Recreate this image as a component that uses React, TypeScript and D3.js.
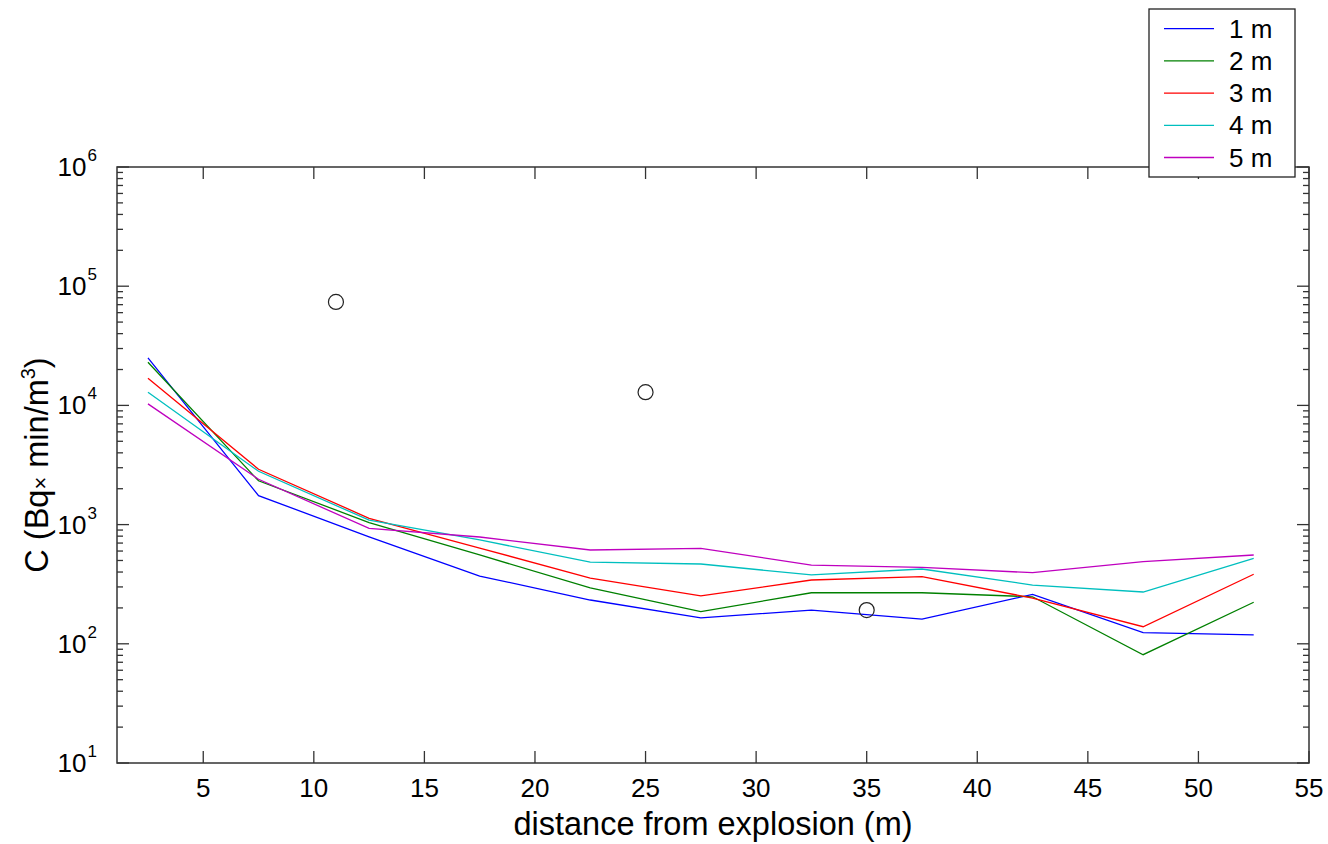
import React from "react";
import * as d3 from "d3";

const distances = [2.5, 7.5, 12.5, 17.5, 22.5, 27.5, 32.5, 37.5, 42.5, 47.5, 52.5];
const series1m = [25000, 1750, 790, 370, 233, 165, 192, 161, 260, 124, 119];
const series2m = [23000, 2330, 1040, 556, 294, 186, 268, 268, 248, 81, 223];
const series3m = [16900, 2910, 1130, 636, 356, 252, 343, 366, 242, 139, 383];
const series4m = [12900, 2800, 1090, 743, 485, 467, 378, 424, 311, 272, 521];
const series5m = [10300, 2400, 930, 787, 612, 632, 458, 438, 395, 489, 556];
const seriesNames = ["1 m", "2 m", "3 m", "4 m", "5 m"];
const seriesColors = ["#0000ff", "#008000", "#ff0000", "#00bfbf", "#bf00bf"];
const measuredX = [11, 25, 35];
const measuredY = [73800, 12900, 192];
const xTicks = [5, 10, 15, 20, 25, 30, 35, 40, 45, 50, 55];
const yDecades = [1, 2, 3, 4, 5, 6];

const W = 1328;
const H = 844;
const L = 117, R = 1309, T = 167, B = 763;
const FONT = "'Liberation Sans', Arial, Helvetica, sans-serif";

export default function App() {
  const x = d3.scaleLinear().domain([1.1, 55]).range([L, R]);
  const y = d3.scaleLog().domain([10, 1e6]).range([B, T]);
  const all = [series1m, series2m, series3m, series4m, series5m];
  const line = d3
    .line<number>()
    .x((_, i) => x(distances[i]))
    .y((d) => y(d));
  const yTicks = y.ticks();
  const isMajor = (v: number) => Math.abs(Math.log10(v) - Math.round(Math.log10(v))) < 1e-9;

  return (
    <svg width={W} height={H} style={{ position: "absolute", left: 0, top: 0, background: "#fff" }} fontFamily={FONT}>
      <rect x={0} y={0} width={W} height={H} fill="#fff" />
      {all.map((s, i) => (
        <path key={i} d={line(s) || ""} fill="none" stroke={seriesColors[i]} strokeWidth={1.3} />
      ))}
      {measuredX.map((mx, i) => (
        <circle key={i} cx={x(mx)} cy={y(measuredY[i])} r={7.5} fill="none" stroke="#222" strokeWidth={1.2} />
      ))}
      <rect x={L} y={T} width={R - L} height={B - T} fill="none" stroke="#333" strokeWidth={1.5} />
      {yTicks.map((v, i) => {
        const len = isMajor(v) ? 12 : 6;
        const yy = y(v);
        return (
          <g key={i}>
            <line x1={L} x2={L + len} y1={yy} y2={yy} stroke="#333" strokeWidth={1.3} />
            <line x1={R} x2={R - len} y1={yy} y2={yy} stroke="#333" strokeWidth={1.3} />
          </g>
        );
      })}
      {yDecades.map((e) => (
        <text key={e} x={97} y={y(Math.pow(10, e)) + 9} textAnchor="end" fontSize={26} fill="#000">
          10
          <tspan fontSize={17} dy={-15} dx={1}>{e}</tspan>
        </text>
      ))}
      {xTicks.map((v) => (
        <g key={v}>
          <line x1={x(v)} x2={x(v)} y1={B} y2={B - 12} stroke="#333" strokeWidth={1.3} />
          <line x1={x(v)} x2={x(v)} y1={T} y2={T + 12} stroke="#333" strokeWidth={1.3} />
          <text x={x(v)} y={797} textAnchor="middle" fontSize={26} fill="#000">
            {v}
          </text>
        </g>
      ))}
      <text x={(L + R) / 2} y={835} textAnchor="middle" fontSize={32.5} fill="#000">
        distance from explosion (m)
      </text>
      <text transform={`translate(48, ${(T + B) / 2}) rotate(-90)`} textAnchor="middle" fontSize={32.5} fill="#000">
        C (Bq<tspan fontSize={22}>×</tspan> min/m<tspan fontSize={20} dy={-13}>3</tspan>
        <tspan dy={13}>)</tspan>
      </text>
      <rect x={1149} y={9} width={146} height={168} fill="#fff" stroke="#222" strokeWidth={1.3} />
      {seriesNames.map((n, i) => {
        const ly = 28.7 + i * 32.2;
        return (
          <g key={n}>
            <line x1={1164} x2={1214} y1={ly} y2={ly} stroke={seriesColors[i]} strokeWidth={1.3} />
            <text x={1229} y={ly + 9} fontSize={26} fill="#000">
              {n}
            </text>
          </g>
        );
      })}
    </svg>
  );
}
